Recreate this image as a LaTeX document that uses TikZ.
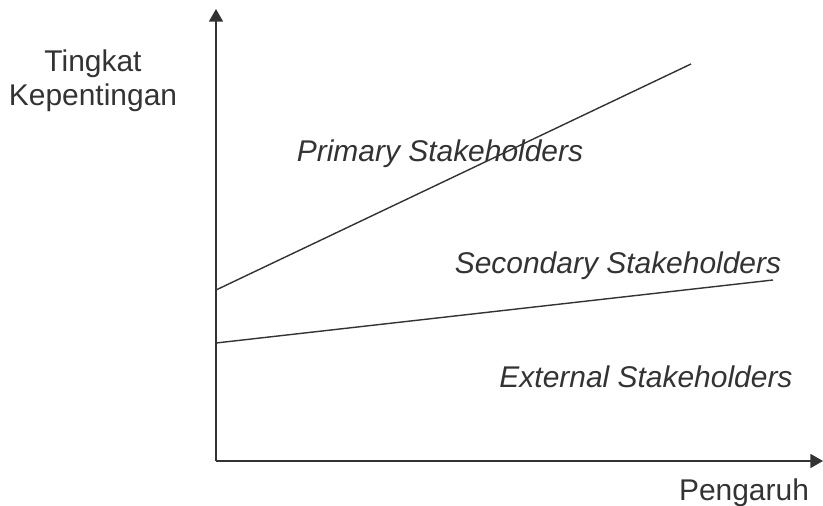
\documentclass[tikz,border=0pt]{standalone}
\usepackage{fontspec}
\setmainfont{Liberation Sans}
\usepackage{tikz}
\usetikzlibrary{arrows.meta, positioning}
\definecolor{ink}{HTML}{333333}

\begin{document}
\begin{tikzpicture}[x=0.025cm, y=-0.025cm,
    axis/.style={draw=ink, line width=1pt, -{Triangle[length=9pt, width=10pt]}},
    border/.style={draw=ink, line width=1pt},
    lbl/.style={text=ink, inner sep=0pt, font=\fontsize{21.3}{23.5}\selectfont},
    zone/.style={lbl, font=\fontsize{21.3}{23.5}\selectfont\itshape, anchor=base}]

\useasboundingbox (0,0) rectangle (823,506);

% Axes
\coordinate (O) at (216,461);
\coordinate (ytop) at (216,9);
\coordinate (xend) at (823,461);
\draw[axis] (O) -- (ytop);
\draw[axis] (O) -- (xend);

% Dividing lines
\coordinate (p1) at (216,290);
\coordinate (p2) at (691,64);
\coordinate (s1) at (216,343);
\coordinate (s2) at (773,280);
\draw[border] (p1) -- (p2);
\draw[border] (s1) -- (s2);

% Axis titles
\node[lbl, anchor=north, align=center] (ylabel) at (93,50) {Tingkat\\Kepentingan};
\node[lbl, anchor=base] (xlabel) at (744,500) {Pengaruh};

% Stakeholder groups
\node[zone] (primary) at (440,161) {Primary Stakeholders};
\node[zone] (secondary) at (618,273) {Secondary Stakeholders};
\node[zone] (external) at (646,387) {External Stakeholders};

\end{tikzpicture}
\end{document}
